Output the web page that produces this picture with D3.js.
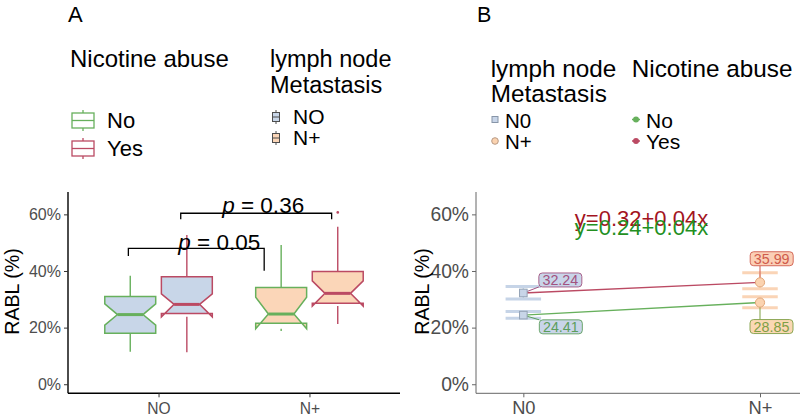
<!DOCTYPE html>
<html><head><meta charset="utf-8">
<script src="https://cdn.jsdelivr.net/npm/d3@7"></script>
<style>body{margin:0;background:#fff}svg{display:block}text{font-family:"Liberation Sans",Arial,sans-serif}</style>
</head><body>
<script>
// ---------- data ----------
const categories = ["NO", "N+"];
const nicotineLevels = ["No", "Yes"];
const boxCategory = ["NO", "NO", "N+", "N+"];
const boxNicotine = ["No", "Yes", "No", "Yes"];
const whiskerLow = [11.5, 11.3, 18.8, 21.3];
const q1 = [18.0, 25.0, 21.5, 28.6];
const median = [24.6, 28.2, 24.8, 32.1];
const q3 = [31.0, 38.0, 34.2, 39.8];
const whiskerHigh = [38.3, 52.7, 49.2, 55.6];
const notchLow = [20.9, 23.8, 19.6, 27.6];
const notchHigh = [28.4, 31.9, 30.7, 36.5];
const outliers = [[], [], [], [60.7]];
const yTicks = [0, 20, 40, 60];
const pLabels = ["0.05", "0.36"];
const bracketX1 = [0.8, 1.147];
const bracketX2 = [1.7, 2.147];
const bracketTop = [48.0, 60.4];
const bracketLeftEnd = [45.3, 58.3];
const bracketRightEnd = [40.1, 58.3];

const nodeLevelsB = ["N0", "N+"];
const meanNo = [24.41, 28.85];
const meanYes = [32.24, 35.99];
const errNoLow = [23.3, 27.0];
const errNoHigh = [25.7, 30.9];
const errYesLow = [30.1, 33.7];
const errYesHigh = [34.5, 39.4];
const equations = ["y=0.32+0.04x", "y=0.24+0.04x"];

// ---------- styles ----------
const green = "#67b05c", red = "#bb4a63";
const blueFill = "#c8d6e8", orangeFill = "#fbd6b8";
const nicColor = {No: green, Yes: red};
const nodeFill = {"NO": blueFill, "N+": orangeFill};

const svg = d3.select("body").append("svg").attr("width", 810).attr("height", 420);

// ================= Panel A =================
const xA = d3.scaleLinear().domain([0.4, 2.6]).range([68, 400]);
const yA = d3.scaleLinear().domain([-3.2, 67.9]).range([393.3, 192]);
const catIndex = c => categories.indexOf(c) + 1;
const gA = svg.append("g");

svg.append("text").attr("x", 68).attr("y", 22).attr("font-size", 22).text("A");

// boxes
const dodge = 0.1875, bw = 0.3375;
boxCategory.forEach((c, i) => {
  const cx = catIndex(c) + (boxNicotine[i] === "No" ? -dodge : dodge);
  const x0 = xA(cx - bw / 2), x1 = xA(cx + bw / 2), xm = xA(cx);
  const nw = (x1 - x0) / 4;
  const col = nicColor[boxNicotine[i]];
  gA.append("line").attr("x1", xm).attr("x2", xm).attr("y1", yA(q3[i])).attr("y2", yA(whiskerHigh[i]))
    .attr("stroke", col).attr("stroke-width", 1.4);
  gA.append("line").attr("x1", xm).attr("x2", xm).attr("y1", yA(Math.min(q1[i], notchLow[i]))).attr("y2", yA(whiskerLow[i]))
    .attr("stroke", col).attr("stroke-width", 1.4);
  const pts = [
    [x0, yA(q3[i])], [x0, yA(notchHigh[i])], [x0 + nw, yA(median[i])], [x0, yA(notchLow[i])], [x0, yA(q1[i])],
    [x1, yA(q1[i])], [x1, yA(notchLow[i])], [x1 - nw, yA(median[i])], [x1, yA(notchHigh[i])], [x1, yA(q3[i])]
  ];
  gA.append("path").attr("d", d3.line()(pts) + "Z")
    .attr("fill", nodeFill[c]).attr("stroke", col).attr("stroke-width", 1.5).attr("stroke-linejoin", "miter");
  gA.append("line").attr("x1", x0 + nw).attr("x2", x1 - nw).attr("y1", yA(median[i])).attr("y2", yA(median[i]))
    .attr("stroke", col).attr("stroke-width", 3);
  outliers[i].forEach(v => {
    gA.append("circle").attr("cx", xm).attr("cy", yA(v)).attr("r", 1.3).attr("fill", col);
  });
});

// brackets
const pShift = [23, 7];
pLabels.forEach((p, i) => {
  const l = xA(bracketX1[i]), r = xA(bracketX2[i]);
  gA.append("path").attr("d", `M${l},${yA(bracketLeftEnd[i])}V${yA(bracketTop[i])}H${r}V${yA(bracketRightEnd[i])}`)
    .attr("fill", "none").attr("stroke", "#000").attr("stroke-width", 1.3);
  const t = gA.append("text").attr("x", (l + r) / 2 + pShift[i]).attr("y", yA(bracketTop[i]) + (i === 0 ? 1.5 : 0))
    .attr("text-anchor", "middle").attr("font-size", 22.5).attr("fill", "#000");
  t.append("tspan").attr("font-style", "italic").text("p");
  t.append("tspan").text(" = " + p);
});

// axes A
const yAxisA = gA.append("g").attr("transform", "translate(68,0)")
  .call(d3.axisLeft(yA).tickValues(yTicks).tickFormat(d => d + "%").tickSize(4).tickPadding(3));
yAxisA.select(".domain").attr("d", `M0,192V393.3`).attr("stroke", "#000").attr("stroke-width", 1.4);
yAxisA.selectAll(".tick line").attr("stroke", "#333");
yAxisA.selectAll(".tick text").attr("font-size", 16).attr("fill", "#4d4d4d").attr("font-family", "Liberation Sans, Arial, sans-serif");
const xAxisA = gA.append("g").attr("transform", "translate(0,393.3)")
  .call(d3.axisBottom(xA).tickValues([1, 2]).tickFormat(d => categories[d - 1]).tickSize(4).tickPadding(6));
xAxisA.select(".domain").attr("d", `M68,0H400`).attr("stroke", "#000").attr("stroke-width", 1.4);
xAxisA.selectAll(".tick line").attr("stroke", "#333");
xAxisA.selectAll(".tick text").attr("font-size", 15.6).attr("fill", "#4d4d4d").attr("font-family", "Liberation Sans, Arial, sans-serif");
svg.append("text").attr("transform", "translate(19,291.5) rotate(-90)").attr("text-anchor", "middle")
  .attr("font-size", 19.6).attr("fill", "#000").text("RABL (%)");

// legend A
svg.append("text").attr("x", 70).attr("y", 66.7).attr("font-size", 24).text("Nicotine abuse");
nicotineLevels.forEach((lv, i) => {
  const cy = 120.5 + i * 28;
  const col = nicColor[lv];
  const g = svg.append("g");
  g.append("line").attr("x1", 83).attr("x2", 83).attr("y1", cy - 10.5).attr("y2", cy + 10.5).attr("stroke", col).attr("stroke-width", 1.3);
  g.append("rect").attr("x", 72).attr("y", cy - 7.5).attr("width", 22).attr("height", 15).attr("fill", "#fff").attr("stroke", col).attr("stroke-width", 1.3);
  g.append("line").attr("x1", 72).attr("x2", 94).attr("y1", cy).attr("y2", cy).attr("stroke", col).attr("stroke-width", 1.3);
  svg.append("text").attr("x", 107).attr("y", cy + 7.5).attr("font-size", 22).text(lv);
});
svg.append("text").attr("x", 270).attr("y", 66.7).attr("font-size", 23.5).text("lymph node");
svg.append("text").attr("x", 270).attr("y", 93.3).attr("font-size", 23.5).text("Metastasis");
categories.forEach((c, i) => {
  const cy = 117 + i * 21;
  const g = svg.append("g");
  g.append("line").attr("x1", 276).attr("x2", 276).attr("y1", cy - 7).attr("y2", cy + 7).attr("stroke", "#4d4d4d").attr("stroke-width", 1);
  g.append("rect").attr("x", 272.5).attr("y", cy - 4.5).attr("width", 7).attr("height", 9).attr("fill", nodeFill[c]).attr("stroke", "#4d4d4d").attr("stroke-width", 1);
  g.append("line").attr("x1", 272.5).attr("x2", 279.5).attr("y1", cy).attr("y2", cy).attr("stroke", "#4d4d4d").attr("stroke-width", 1);
  svg.append("text").attr("x", 293).attr("y", cy + 7).attr("font-size", 21).text(c);
});

// ================= Panel B =================
const xB = d3.scaleLinear().domain([0.8, 2.169]).range([476, 800]);
const yB = d3.scaleLinear().domain([-3.2, 67.9]).range([393.3, 192]);
const gB = svg.append("g");
svg.append("text").attr("x", 477).attr("y", 22).attr("font-size", 21.5).text("B");

const errColor = ["#c6d4e7", "#fad4b6"];
const capHalf = 0.075;
nodeLevelsB.forEach((n, i) => {
  const x = xB(i + 1);
  [[errNoLow[i], errNoHigh[i]], [errYesLow[i], errYesHigh[i]]].forEach(([lo, hi]) => {
    gB.append("line").attr("x1", x).attr("x2", x).attr("y1", yB(lo)).attr("y2", yB(hi)).attr("stroke", errColor[i]).attr("stroke-width", 1.5);
    [lo, hi].forEach(v => {
      gB.append("line").attr("x1", xB(i + 1 - capHalf)).attr("x2", xB(i + 1 + capHalf)).attr("y1", yB(v)).attr("y2", yB(v))
        .attr("stroke", errColor[i]).attr("stroke-width", 3);
    });
  });
});

[[meanNo, green], [meanYes, red]].forEach(([vals, col]) => {
  gB.append("path").attr("d", d3.line().x((d, i) => xB(i + 1)).y(d => yB(d))(vals))
    .attr("fill", "none").attr("stroke", col).attr("stroke-width", 1.4);
});

const labelDefs = [
  {v: meanYes[0], i: 0, dx: 37, dy: -13, fill: "#c9d5e9", col: "#a2527f"},
  {v: meanNo[0], i: 0, dx: 37.5, dy: 11.7, fill: "#c9d5e9", col: "#5c9e5c"},
  {v: meanYes[1], i: 1, dx: 11.7, dy: -23.6, fill: "#fbcfb6", col: "#cf5b4c"},
  {v: meanNo[1], i: 1, dx: 11.5, dy: 24, fill: "#fbd8b4", col: "#7f9f45"}
];
labelDefs.forEach(d => {
  const px = xB(d.i + 1), py = yB(d.v);
  const cx = px + d.dx, cy = py + d.dy;
  const w = 43, h = 14;
  const ex = Math.max(cx - w / 2, Math.min(px, cx + w / 2));
  const ey = d.dy < 0 ? cy + h / 2 : cy - h / 2;
  const ey2 = Math.abs(d.dx) > 30 ? (Math.max(cy - h / 2, Math.min(py, cy + h / 2))) : ey;
  const ex2 = Math.abs(d.dx) > 30 ? cx - w / 2 : ex;
  gB.append("line").attr("x1", px).attr("y1", py).attr("x2", ex2).attr("y2", ey2).attr("stroke", d.col).attr("stroke-width", 1);
  d.cx = cx; d.cy = cy; d.w = w; d.h = h;
});

nodeLevelsB.forEach((n, i) => {
  const x = xB(i + 1);
  [meanNo[i], meanYes[i]].forEach(v => {
    if (i === 0) {
      gB.append("rect").attr("x", x - 3.8).attr("y", yB(v) - 3.8).attr("width", 7.6).attr("height", 7.6)
        .attr("fill", "#c8d5e8").attr("stroke", "#94a3b6").attr("stroke-width", 1);
    } else {
      gB.append("circle").attr("cx", x).attr("cy", yB(v)).attr("r", 4.6)
        .attr("fill", "#fbd3b0").attr("stroke", "#e2a679").attr("stroke-width", 1);
    }
  });
});

labelDefs.forEach(d => {
  gB.append("rect").attr("x", d.cx - d.w / 2).attr("y", d.cy - d.h / 2).attr("width", d.w).attr("height", d.h)
    .attr("rx", 3.5).attr("fill", d.fill).attr("stroke", d.col).attr("stroke-width", 0.9);
  gB.append("text").attr("x", d.cx).attr("y", d.cy + 5).attr("text-anchor", "middle").attr("font-size", 14.3)
    .attr("fill", d.col).text(d.v.toFixed(2));
});

gB.append("text").attr("x", 641.5).attr("y", 226).attr("text-anchor", "middle").attr("font-size", 22).attr("fill", "#a3141f").text(equations[0]);
gB.append("text").attr("x", 641.5).attr("y", 235).attr("text-anchor", "middle").attr("font-size", 22).attr("fill", "#23901f").text(equations[1]);

const yAxisB = gB.append("g").attr("transform", "translate(476,0)")
  .call(d3.axisLeft(yB).tickValues(yTicks).tickFormat(d => d + "%").tickSize(4).tickPadding(3));
yAxisB.select(".domain").attr("d", `M0,192V393.3`).attr("stroke", "#666").attr("stroke-width", 1);
yAxisB.selectAll(".tick line").attr("stroke", "#666");
yAxisB.selectAll(".tick text").attr("font-size", 19.3).attr("fill", "#4d4d4d").attr("font-family", "Liberation Sans, Arial, sans-serif");
const xAxisB = gB.append("g").attr("transform", "translate(0,393.3)")
  .call(d3.axisBottom(xB).tickValues([1, 2]).tickFormat(d => nodeLevelsB[d - 1]).tickSize(4).tickPadding(4));
xAxisB.select(".domain").attr("d", `M476,0H800`).attr("stroke", "#666").attr("stroke-width", 1);
xAxisB.selectAll(".tick line").attr("stroke", "#666");
xAxisB.selectAll(".tick text").attr("font-size", 18.3).attr("fill", "#4d4d4d").attr("font-family", "Liberation Sans, Arial, sans-serif");
svg.append("text").attr("transform", "translate(429,291.5) rotate(-90)").attr("text-anchor", "middle")
  .attr("font-size", 19.6).attr("fill", "#000").text("RABL (%)");

svg.append("text").attr("x", 490.7).attr("y", 77.3).attr("font-size", 24.3).text("lymph node");
svg.append("text").attr("x", 490.7).attr("y", 101.7).attr("font-size", 24.3).text("Metastasis");
svg.append("text").attr("x", 631.7).attr("y", 77.3).attr("font-size", 24.3).text("Nicotine abuse");
nodeLevelsB.forEach((n, i) => {
  const cy = 119.5 + i * 21.5;
  if (i === 0) {
    svg.append("rect").attr("x", 492).attr("y", cy - 3).attr("width", 6).attr("height", 6).attr("fill", "#c8d5e8").attr("stroke", "#8795a8").attr("stroke-width", 1);
  } else {
    svg.append("circle").attr("cx", 495).attr("cy", cy).attr("r", 3.3).attr("fill", "#fbd3b0").attr("stroke", "#b89a85").attr("stroke-width", 1);
  }
  svg.append("text").attr("x", 505).attr("y", cy + 8).attr("font-size", 20.5).text(n);
});
nicotineLevels.forEach((lv, i) => {
  const cy = 119.5 + i * 21.5;
  svg.append("line").attr("x1", 632).attr("x2", 640).attr("y1", cy).attr("y2", cy).attr("stroke", nicColor[lv]).attr("stroke-width", 1.5);
  svg.append("circle").attr("cx", 636).attr("cy", cy).attr("r", 3).attr("fill", nicColor[lv]);
  svg.append("text").attr("x", 646).attr("y", cy + 8).attr("font-size", 21).text(lv);
});
</script>
</body></html>
